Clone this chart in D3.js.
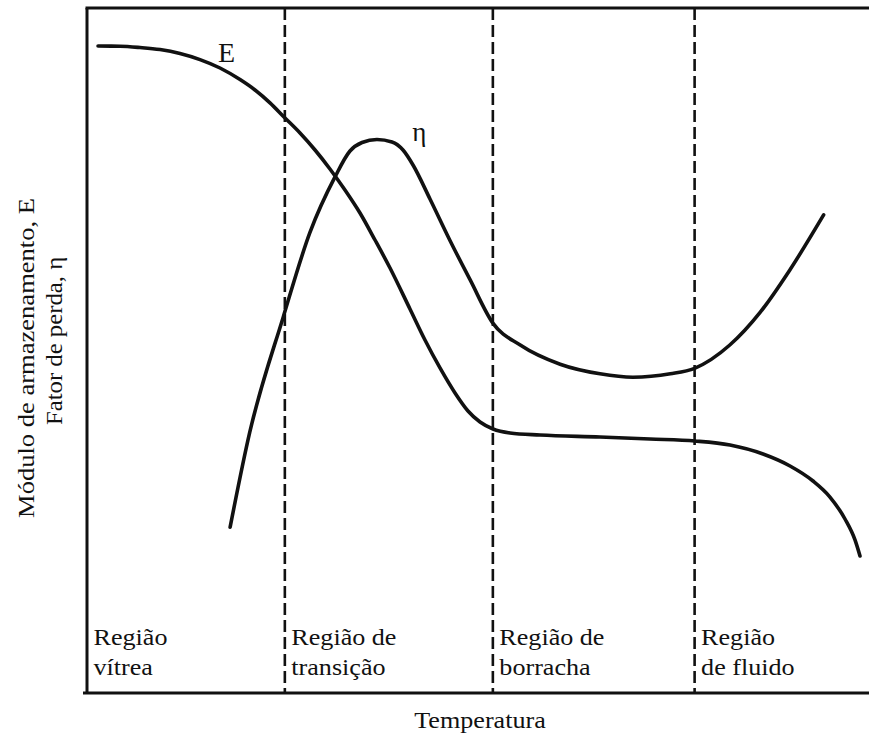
<!DOCTYPE html>
<html>
<head>
<meta charset="utf-8">
<script src="https://cdn.jsdelivr.net/npm/d3@7"></script>
<style>
  body { margin: 0; background: #fff; }
</style>
</head>
<body>
<svg id="chart" width="869" height="736"></svg>
<script>
// Storage modulus E versus temperature (arbitrary units)
const temperatureE = [1.41, 4.22, 6.78, 9.34, 11.89, 14.45, 17.01, 19.57, 21.48, 23.40, 25.19, 27.24, 29.16, 31.07, 32.99, 34.91, 36.83, 38.75, 41.30, 43.22, 45.14, 47.06, 48.72, 50.26, 51.92, 54.09, 57.93, 65.60, 71.99, 77.75, 82.23, 86.45, 89.90, 92.84, 95.01, 96.93, 98.21, 98.85];
const storageModulus = [94.45, 94.42, 94.23, 93.93, 93.36, 92.47, 91.24, 89.55, 88.03, 86.15, 84.09, 81.75, 79.27, 76.50, 73.43, 70.07, 66.13, 62.04, 56.06, 51.53, 47.45, 43.80, 41.17, 39.56, 38.54, 37.96, 37.66, 37.37, 37.08, 36.79, 36.20, 34.89, 33.14, 30.95, 28.61, 25.40, 22.34, 20.00];

// Loss factor η versus temperature (arbitrary units)
const temperatureEta = [18.3, 20.8, 25.1, 28.5, 31.7, 33.63, 35.17, 37.08, 39.0, 40.41, 41.69, 43.86, 46.4, 49.0, 51.9, 55.4, 60.5, 65.6, 69.8, 74.6, 77.7, 82.2, 86.1, 89.9, 94.2];
const lossFactor = [24.2, 38.0, 54.9, 67.2, 75.3, 79.12, 80.36, 80.80, 80.44, 79.27, 77.08, 72.12, 66.1, 60.3, 54.0, 50.8, 48.0, 46.6, 46.1, 46.6, 47.4, 50.8, 55.6, 61.8, 69.8];

// Temperature regions
const regionStarts = [0, 25.3, 51.9, 77.7];
const regionLabels = [
  ["Região", "vítrea"],
  ["Região de", "transição"],
  ["Região de", "borracha"],
  ["Região", "de fluido"]
];

const xTitle = "Temperatura";
const yTitle = ["Módulo de armazenamento, E", "Fator de perda, η"];
const curveNames = ["E", "η"];

const svg = d3.select("#chart");
const x = d3.scaleLinear().domain([0, 100]).range([87, 869]);
const y = d3.scaleLinear().domain([0, 100]).range([693, 8]);
const font = "'Liberation Serif', 'Times New Roman', serif";
const ink = "#111";

// widen serif text slightly along its baseline
function widen(sel, k) {
  sel.each(function () {
    const w = this.getComputedTextLength();
    this.setAttribute("textLength", w * k);
    this.setAttribute("lengthAdjust", "spacingAndGlyphs");
  });
}

// frame: left, top and bottom edges
const frame = svg.append("g").attr("stroke", ink).attr("stroke-width", 3).attr("fill", "none");
frame.append("line").attr("x1", x(0)).attr("x2", x(0)).attr("y1", y(100)).attr("y2", y(0));
frame.append("line").attr("x1", x(0) - 1.5).attr("x2", x(100)).attr("y1", y(100)).attr("y2", y(100));
frame.append("line").attr("x1", x(0) - 4).attr("x2", x(100)).attr("y1", y(0)).attr("y2", y(0));

// dashed region boundaries
svg.append("g").selectAll("line")
  .data(regionStarts.slice(1))
  .join("line")
  .attr("x1", d => x(d)).attr("x2", d => x(d))
  .attr("y1", y(100)).attr("y2", y(0))
  .attr("stroke", ink).attr("stroke-width", 2.6)
  .attr("stroke-dasharray", "12,5");

// curves
const line = d3.line()
  .x(d => x(d[0]))
  .y(d => y(d[1]))
  .curve(d3.curveMonotoneX);

const series = [
  d3.zip(temperatureE, storageModulus),
  d3.zip(temperatureEta, lossFactor)
];

svg.append("g").selectAll("path")
  .data(series)
  .join("path")
  .attr("d", line)
  .attr("fill", "none")
  .attr("stroke", ink)
  .attr("stroke-width", 3.6)
  .attr("stroke-linecap", "round")
  .attr("stroke-linejoin", "round");

// curve names
svg.append("text").text(curveNames[0])
  .attr("x", x(16.75)).attr("y", y(92.1))
  .style("font-family", font).attr("font-size", 28).attr("fill", ink);
svg.append("text").text(curveNames[1])
  .attr("x", x(41.6)).attr("y", y(80.6))
  .style("font-family", font).attr("font-size", 27).attr("fill", ink);

// region labels
const labels = svg.append("g")
  .style("font-family", font).attr("font-size", 22.5).attr("fill", ink);
regionLabels.forEach((lines, i) => {
  lines.forEach((t, j) => {
    labels.append("text")
      .attr("x", x(regionStarts[i]) + 6.5)
      .attr("y", y(0) - 48 + j * 30)
      .text(t)
      .call(widen, 1.16);
  });
});

// axis titles
svg.append("text").text(xTitle)
  .attr("x", 480).attr("y", 728)
  .attr("text-anchor", "middle")
  .style("font-family", font).attr("font-size", 22.5).attr("fill", ink)
  .call(widen, 1.16);

svg.append("text").text(yTitle[0])
  .attr("transform", "translate(34,358) rotate(-90)")
  .attr("text-anchor", "middle")
  .style("font-family", font).attr("font-size", 22.5).attr("fill", ink)
  .call(widen, 1.18);
svg.append("text").text(yTitle[1])
  .attr("transform", "translate(62,341) rotate(-90)")
  .attr("text-anchor", "middle")
  .style("font-family", font).attr("font-size", 22.5).attr("fill", ink)
  .call(widen, 1.1);
</script>
</body>
</html>
